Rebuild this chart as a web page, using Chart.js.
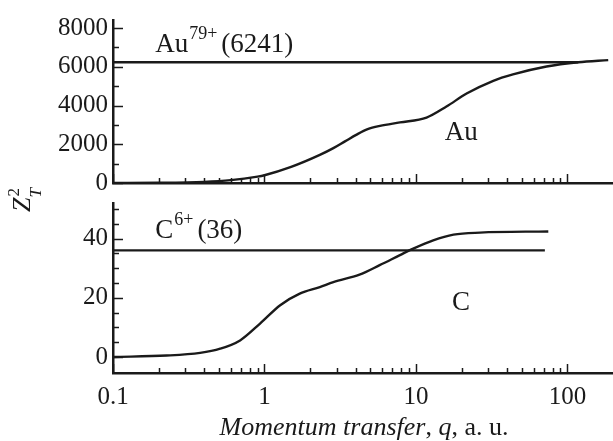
<!DOCTYPE html>
<html>
<head>
<meta charset="utf-8">
<script src="https://cdn.jsdelivr.net/npm/chart.js@4/dist/chart.umd.min.js"></script>
<style>
  html, body { margin: 0; padding: 0; background: #fff; }
  #wrap { position: relative; width: 613px; height: 441px; }
  canvas { position: absolute; left: 0; top: 0; }
</style>
</head>
<body>
<div id="wrap">
  <canvas id="bottom" width="613" height="441"></canvas>
  <canvas id="top" width="613" height="441"></canvas>
</div>
<script>
// momentum transfer q (a.u.) and Z_T^2
const auQ = [0.1, 0.2, 0.4, 0.6, 0.9, 1, 1.5, 2.32, 2.85, 3.4, 4.06, 4.8, 5.79, 7.84, 11.75, 15.9, 21.6, 32.4, 43.7, 72.8, 118, 186];
const auZ = [0, 10, 60, 150, 330, 400, 830, 1450, 1800, 2150, 2500, 2780, 2950, 3130, 3380, 3950, 4620, 5280, 5610, 6020, 6240, 6350];
const auLimitQ = [0.1, 118];
const auLimitZ = [6241, 6241];

const cQ = [0.1, 0.226, 0.376, 0.51, 0.69, 0.935, 1.27, 1.71, 2.32, 2.85, 4.24, 5.76, 7.84, 9.6, 13.0, 17.7, 26.5, 74.8];
const cZ = [0, 0.5, 1.4, 2.8, 5.6, 11.3, 17.5, 21.4, 23.6, 25.3, 27.8, 31, 34.4, 36.6, 39.4, 41.3, 42.0, 42.4];
const cLimitQ = [0.1, 71];
const cLimitZ = [36, 36];

const xTicks = [0.1, 0.2, 0.3, 0.4, 0.5, 0.6, 0.7, 0.8, 0.9, 1, 2, 3, 4, 5, 6, 7, 8, 9, 10, 20, 30, 40, 50, 60, 70, 80, 90, 100];
const xLabels = [0.1, 1, 10, 100];
const auYTicks = [0, 1000, 2000, 3000, 4000, 5000, 6000, 7000, 8000];
const auYLabels = [0, 2000, 4000, 6000, 8000];
const cYTicks = [0, 5, 10, 15, 20, 25, 30, 35, 40, 45, 50];
const cYLabels = [0, 20, 40];

const INK = "#1a1a1a";
const SERIF = "'Liberation Serif', 'DejaVu Serif', serif";

function pts(xs, ys) {
  return xs.map((x, i) => ({ x: x, y: ys[i] }));
}

// draws runs of text with different fonts / vertical shifts
function richText(ctx, parts, x, y) {
  let cx = x;
  parts.forEach((p) => {
    ctx.font = p.font;
    ctx.fillText(p.t, cx, y + (p.dy || 0));
    cx += ctx.measureText(p.t).width + (p.gap || 0);
  });
  return cx - x;
}

function richWidth(ctx, parts) {
  let w = 0;
  parts.forEach((p) => {
    ctx.font = p.font;
    w += ctx.measureText(p.t).width + (p.gap || 0);
  });
  return w;
}

// inward tick marks like in the printed figure
const inwardTicks = {
  id: "inwardTicks",
  afterDraw(chart, args, opts) {
    const ctx = chart.ctx;
    const area = chart.chartArea;
    ctx.save();
    ctx.strokeStyle = INK;
    ctx.lineWidth = 1.5;
    const xs = chart.scales.x;
    xs.ticks.forEach((t) => {
      const px = Math.round(xs.getPixelForValue(t.value)) + 0.5;
      const len = xLabels.includes(t.value) ? 9 : 5;
      ctx.beginPath();
      ctx.moveTo(px, area.bottom);
      ctx.lineTo(px, area.bottom - len);
      ctx.stroke();
    });
    const ys = chart.scales.y;
    ys.ticks.forEach((t) => {
      const py = Math.round(ys.getPixelForValue(t.value)) + 0.5;
      const len = opts.labels.includes(t.value) ? 10 : 6;
      ctx.beginPath();
      ctx.moveTo(area.left, py);
      ctx.lineTo(area.left + len, py);
      ctx.stroke();
    });
    ctx.restore();
  },
};

const notes = {
  id: "notes",
  afterDraw(chart, args, opts) {
    const ctx = chart.ctx;
    const xs = chart.scales.x;
    const ys = chart.scales.y;
    ctx.save();
    ctx.fillStyle = INK;
    ctx.textBaseline = "alphabetic";
    opts.items.forEach((n) => {
      richText(ctx, n.parts, xs.getPixelForValue(n.q), ys.getPixelForValue(n.z) + (n.dy || 0));
    });
    if (opts.draw) opts.draw(chart, ctx);
    ctx.restore();
  },
};

function xScale(showLabels) {
  return {
    type: "logarithmic",
    min: 0.1,
    max: 200,
    afterBuildTicks: (s) => { s.ticks = xTicks.map((v) => ({ value: v })); },
    afterFit: (s) => { s.height = showLabels ? 68 : 0; },
    grid: { display: false, drawTicks: false },
    border: { display: true, color: INK, width: 2.5 },
    ticks: {
      display: showLabels,
      autoSkip: false,
      maxRotation: 0,
      padding: 9,
      color: INK,
      font: { family: SERIF, size: 25 },
      callback: (v) => (xLabels.includes(v) ? String(v) : ""),
    },
  };
}

function yScale(min, max, ticks, labels) {
  return {
    type: "linear",
    min: min,
    max: max,
    afterBuildTicks: (s) => { s.ticks = ticks.map((v) => ({ value: v })); },
    afterFit: (s) => { s.width = 113; },
    grid: { display: false, drawTicks: false },
    border: { display: true, color: INK, width: 2.5 },
    ticks: {
      autoSkip: false,
      padding: 5,
      color: INK,
      font: { family: SERIF, size: 25 },
      callback: (v) => (labels.includes(v) ? String(v) : ""),
    },
  };
}

function lineSet(data) {
  return {
    data: data,
    borderColor: INK,
    borderWidth: 2.4,
    pointRadius: 0,
    fill: false,
    cubicInterpolationMode: "monotone",
  };
}

const big = "27px " + SERIF;
const sup = "18px " + SERIF;

new Chart(document.getElementById("top"), {
  type: "line",
  data: {
    datasets: [lineSet(pts(auQ, auZ)), lineSet(pts(auLimitQ, auLimitZ))],
  },
  options: {
    responsive: false,
    animation: false,
    events: [],
    layout: { padding: { left: 0, top: 13, right: 0, bottom: 258 } },
    plugins: {
      legend: { display: false },
      tooltip: { enabled: false },
      inwardTicks: { labels: auYLabels },
      notes: {
        items: [
          { q: 0.19, z: 6241, dy: -10, parts: [
            { t: "Au", font: big, gap: 1 },
            { t: "79+", font: sup, dy: -13, gap: 4 },
            { t: "(6241)", font: big },
          ] },
          { q: 15.5, z: 2230, parts: [{ t: "Au", font: big }] },
        ],
        draw: (chart, ctx) => {
          // shared y axis title Z_T^2, rotated
          ctx.translate(30, 212);
          ctx.rotate(-Math.PI / 2);
          ctx.font = "italic 26px " + SERIF;
          ctx.fillText("Z", 0, 0);
          const zw = ctx.measureText("Z").width;
          ctx.font = "17px " + SERIF;
          ctx.fillText("2", zw + 1, -11);
          ctx.font = "italic 17px " + SERIF;
          ctx.fillText("T", zw, 11);
        },
      },
    },
    scales: {
      x: xScale(false),
      y: yScale(0, 8420, auYTicks, auYLabels),
    },
  },
  plugins: [inwardTicks, notes],
});

new Chart(document.getElementById("bottom"), {
  type: "line",
  data: {
    datasets: [lineSet(pts(cQ, cZ)), lineSet(pts(cLimitQ, cLimitZ))],
  },
  options: {
    responsive: false,
    animation: false,
    events: [],
    layout: { padding: { left: 0, top: 203, right: 0, bottom: 0 } },
    plugins: {
      legend: { display: false },
      tooltip: { enabled: false },
      inwardTicks: { labels: cYLabels },
      notes: {
        items: [
          { q: 0.19, z: 36, dy: -12, parts: [
            { t: "C", font: big, gap: 1 },
            { t: "6+", font: sup, dy: -13, gap: 4 },
            { t: "(36)", font: big },
          ] },
          { q: 17.3, z: 15.8, parts: [{ t: "C", font: big }] },
        ],
        draw: (chart, ctx) => {
          const it = "italic 26px " + SERIF;
          const rm = "26px " + SERIF;
          const parts = [
            { t: "Momentum transfer", font: it },
            { t: ", ", font: rm },
            { t: "q", font: it },
            { t: ", a. u.", font: rm },
          ];
          const w = richWidth(ctx, parts);
          richText(ctx, parts, 364 - w / 2, 435);
        },
      },
    },
    scales: {
      x: xScale(true),
      y: yScale(-5.4, 52, cYTicks, cYLabels),
    },
  },
  plugins: [inwardTicks, notes],
});
</script>
</body>
</html>
